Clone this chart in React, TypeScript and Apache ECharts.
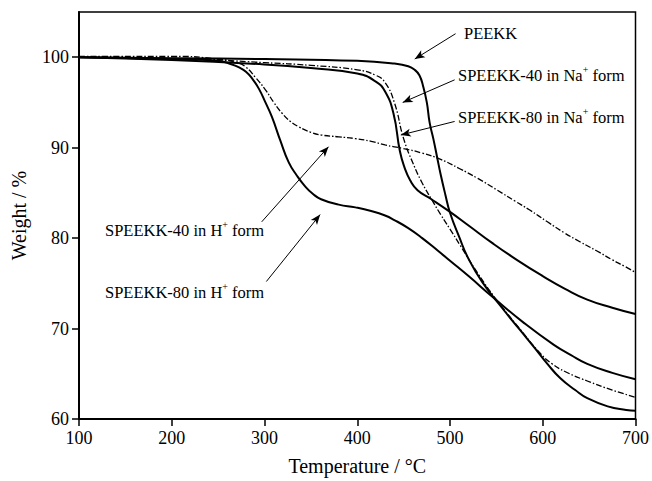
import React, { useEffect, useRef } from "react";
import * as echarts from "echarts";

// Temperature (°C) and weight (%)
const peekkT = [100, 200, 300, 400, 440, 455, 462, 467, 471, 475, 478, 482, 486, 490, 495, 500, 510, 520, 535, 556, 575, 591, 605, 619, 635, 648, 670, 690, 700];
const peekkW = [100, 99.9, 99.8, 99.6, 99.3, 99.0, 98.6, 98.0, 96.8, 95.0, 92.8, 91.0, 89.0, 87.0, 84.8, 82.8, 80.1, 77.7, 75.1, 72.3, 69.9, 67.9, 66.1, 64.5, 63.2, 62.3, 61.4, 61.0, 60.9];

const s40NaT = [100, 200, 300, 350, 400, 420, 430, 440, 450, 460, 470, 480, 490, 500, 511, 530, 550, 575, 597, 610, 625, 648, 675, 700];
const s40NaW = [100, 99.9, 99.4, 99.1, 98.6, 98.0, 97.2, 95.0, 91.0, 88.3, 86.1, 84.3, 82.6, 81.0, 79.2, 76.1, 73.2, 70.0, 67.3, 66.1, 65.2, 64.2, 63.2, 62.4];

const s80NaT = [100, 200, 300, 350, 400, 420, 430, 439, 446, 451, 457, 465, 480, 500, 520, 545, 572, 600, 624, 648, 675, 700];
const s80NaW = [100, 99.7, 99.2, 98.8, 98.2, 97.3, 96.2, 93.8, 89.6, 87.8, 86.4, 85.3, 84.3, 82.9, 81.4, 79.5, 77.6, 75.8, 74.4, 73.2, 72.3, 71.6];

const s40HT = [100, 200, 250, 270, 280, 290, 301, 310, 319, 328, 337, 350, 361, 380, 398, 415, 430, 450, 470, 490, 510, 530, 551, 570, 586, 605, 623, 640, 658, 675, 688, 700];
const s40HW = [100.1, 100.1, 99.8, 99.4, 98.9, 97.8, 96.4, 95.0, 93.8, 92.9, 92.3, 91.7, 91.4, 91.2, 91.0, 90.7, 90.3, 89.9, 89.4, 88.7, 87.7, 86.6, 85.3, 84.1, 83.1, 81.8, 80.6, 79.6, 78.6, 77.6, 76.9, 76.2];

const s80HT = [100, 200, 250, 265, 272, 280, 287, 294, 301, 308, 317, 326, 335, 344, 352, 361, 380, 398, 415, 430, 440, 455, 470, 487, 500, 520, 547, 580, 612, 630, 648, 675, 700];
const s80HW = [100, 99.8, 99.6, 99.2, 98.9, 98.4, 97.6, 96.5, 95.0, 93.4, 90.8, 88.4, 86.9, 85.7, 84.9, 84.3, 83.7, 83.4, 83.0, 82.5, 82.0, 81.1, 80.0, 78.6, 77.5, 75.8, 73.4, 70.6, 68.2, 67.1, 66.1, 65.1, 64.4];

const yTicks = [60, 70, 80, 90, 100];

// Annotation arrows in data coordinates: [fromT, fromW, tipT, tipW]
const arrowPEEKK = [506, 102.6, 462, 99.8];
const arrow40Na = [505, 97.5, 449, 95.0];
const arrow80Na = [505, 92.9, 447, 91.4];
const arrow40H = [297, 81.8, 369, 90.1];
const arrow80H = [302, 75.2, 360, 82.6];

const FONT = "'Liberation Serif', 'Times New Roman', serif";

function zip(t: number[], w: number[]) {
  return t.map((v, i) => [v, w[i]]);
}

function arrowLine(a: number[]) {
  return [{ coord: [a[0], a[1]] }, { coord: [a[2], a[3]] }];
}

export default function App() {
  const ref = useRef<HTMLDivElement>(null);
  useEffect(() => {
    if (!ref.current) return;
    document.body.style.margin = "0";
    document.documentElement.style.overflow = "hidden";
    const chart = echarts.init(ref.current, undefined, { renderer: "svg", width: 652, height: 481 });
    const solid = { color: "#000", width: 2, type: "solid" as const };
    const dashdot = { color: "#000", width: 1.3, type: [6, 2, 1.5, 2] as any };
    const mk = (name: string, data: number[][], ls: any, arrows: number[][]) => ({
      name,
      type: "line",
      data,
      showSymbol: false,
      symbol: "none",
      smooth: 0.5,
      lineStyle: ls,
      silent: true,
      markLine: {
        silent: true,
        symbol: ["none", "arrow"],
        symbolSize: [6, 10],
        label: { show: false },
        lineStyle: { color: "#000", width: 1, type: "solid" },
        data: arrows.map(arrowLine),
      },
    });
    const rich = {
      sup: { fontSize: 10, verticalAlign: "top", lineHeight: 10, fontFamily: FONT, fill: "#000" },
    };
    const label = (x: number, y: number, text: string) => ({
      type: "text",
      left: x,
      top: y,
      style: {
        text,
        fontFamily: FONT,
        fontSize: 16.5,
        lineHeight: 22,
        fill: "#000",
        rich,
      },
    });
    chart.setOption({
      animation: false,
      backgroundColor: "#fff",
      grid: {
        left: 79,
        right: 13,
        top: 12,
        bottom: 61,
        show: true,
        borderColor: "#000",
        borderWidth: 1.5,
        backgroundColor: "transparent",
      },
      xAxis: {
        type: "value",
        min: 100,
        max: 700,
        interval: 100,
        name: "Temperature / °C",
        nameLocation: "middle",
        nameGap: 37,
        nameTextStyle: { fontFamily: FONT, fontSize: 20, color: "#000" },
        axisLine: { lineStyle: { color: "#000", width: 2 } },
        axisTick: { show: true, length: 7, lineStyle: { color: "#000", width: 1.5 } },
        axisLabel: { fontFamily: FONT, fontSize: 18, color: "#000", margin: 10 },
        splitLine: { show: false },
      },
      yAxis: {
        type: "value",
        min: 60,
        max: 105,
        name: "Weight / %",
        nameLocation: "middle",
        nameGap: 50,
        nameTextStyle: { fontFamily: FONT, fontSize: 20, color: "#000" },
        axisLine: { lineStyle: { color: "#000", width: 2 } },
        axisTick: { show: true, length: 7, customValues: yTicks, lineStyle: { color: "#000", width: 1.5 } },
        axisLabel: { fontFamily: FONT, fontSize: 18, color: "#000", margin: 10, customValues: yTicks },
        splitLine: { show: false },
      },
      series: [
        mk("PEEKK", zip(peekkT, peekkW), solid, [arrowPEEKK]),
        mk("SPEEKK-40 in Na+ form", zip(s40NaT, s40NaW), dashdot, [arrow40Na]),
        mk("SPEEKK-80 in Na+ form", zip(s80NaT, s80NaW), solid, [arrow80Na]),
        mk("SPEEKK-40 in H+ form", zip(s40HT, s40HW), dashdot, [arrow40H]),
        mk("SPEEKK-80 in H+ form", zip(s80HT, s80HW), solid, [arrow80H]),
      ],
      graphic: [
        label(464, 22, "PEEKK"),
        label(458, 64, "SPEEKK-40 in Na{sup|+} form"),
        label(458, 106, "SPEEKK-80 in Na{sup|+} form"),
        label(105, 219, "SPEEKK-40 in H{sup|+} form"),
        label(105, 281, "SPEEKK-80 in H{sup|+} form"),
      ],
    });
    return () => chart.dispose();
  }, []);
  return <div ref={ref} style={{ width: 652, height: 481, position: "absolute", left: 0, top: 0 }} />;
}
